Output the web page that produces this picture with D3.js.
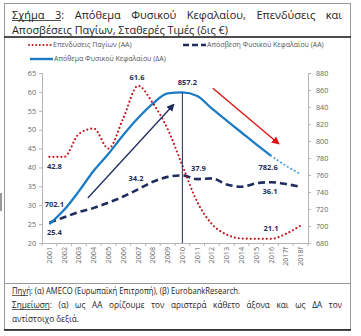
<!DOCTYPE html>
<html>
<head>
<meta charset="utf-8">
<script src="https://cdn.jsdelivr.net/npm/d3@7/dist/d3.min.js"></script>
<style>
  body { margin: 0; background: #fff; }
  svg { display: block; }
  text { font-family: "Open Sans", "Noto Sans", sans-serif; }
</style>
</head>
<body>
<svg id="chart" width="361" height="336"></svg>
<script>
// ---- data ----
const years = ["2001", "2002", "2003", "2004", "2005", "2006", "2007", "2008", "2009",
  "2010", "2011", "2012", "2013", "2014", "2015", "2016", "2017f", "2018f"];
// left axis, bn €
const investment = [42.8, 42.8, 48.9, 50.3, 45.0, 53.0, 61.6, 57.0, 50.2, 40.5, 30.9, 25.0,
  22.2, 21.2, 21.1, 21.1, 22.4, 24.6];
const depreciation = [25.4, 26.8, 28.2, 29.3, 30.7, 32.3, 34.2, 36.2, 37.5, 37.9, 36.9, 37.1,
  35.5, 34.9, 35.8, 36.1, 35.6, 34.9];
// right axis, bn €
const capitalStock = [702.1, 719, 741, 765, 785, 807, 827, 844, 856, 857.2, 853, 838,
  824, 810, 796, 782.6];
const capitalForecast = [782.6, 771, 761]; // 2016 -> 2018f
const leftTicks = [20, 25, 30, 35, 40, 45, 50, 55, 60, 65];
const rightTicks = [680, 700, 720, 740, 760, 780, 800, 820, 840, 860, 880];

const svg = d3.select("#chart");
const navy = "#1f2d5e";
const red = "#c0161f";
const blue = "#1b7bc4";
const lightBlue = "#4aa6e0";

// ---- frame ----
svg.append("rect").attr("x", 4.5).attr("y", 3.5).attr("width", 346).attr("height", 326)
  .attr("fill", "none").attr("stroke", "#9a9a9a").attr("stroke-width", 1);
svg.append("line").attr("x1", 4).attr("x2", 351).attr("y1", 37).attr("y2", 37)
  .attr("stroke", "#111").attr("stroke-width", 1.3);
svg.append("line").attr("x1", 4).attr("x2", 351).attr("y1", 283.5).attr("y2", 283.5)
  .attr("stroke", "#9a9a9a").attr("stroke-width", 1);
svg.append("line").attr("x1", 4).attr("x2", 351).attr("y1", 330).attr("y2", 330)
  .attr("stroke", "#111").attr("stroke-width", 1.3);
svg.append("line").attr("x1", 1).attr("x2", 1).attr("y1", 193).attr("y2", 211)
  .attr("stroke", "#333").attr("stroke-width", 1);

// justify a list of words between x0 and x1
function justify(words, x0, x1, y, size, fill) {
  const g = svg.append("g");
  const t = g.selectAll("text").data(words).join("text")
    .attr("y", y).attr("font-size", size).attr("fill", fill).text(d => d);
  const w = t.nodes().map(n => n.getComputedTextLength());
  const gap = (x1 - x0 - d3.sum(w)) / (words.length - 1);
  let x = x0;
  const xs = [];
  t.each(function (d, i) { xs.push(x); d3.select(this).attr("x", x); x += w[i] + gap; });
  return { xs, w };
}

// ---- title ----
const t1 = justify(["Σχήμα", "3:", "Απόθεμα", "Φυσικού", "Κεφαλαίου,", "Επενδύσεις", "και"],
  12, 342, 18.5, 11, "#222");
svg.append("line").attr("x1", t1.xs[0]).attr("x2", t1.xs[1] + 6)
  .attr("y1", 20.5).attr("y2", 20.5).attr("stroke", "#222").attr("stroke-width", 0.8);
svg.append("text").attr("x", 12).attr("y", 33.5).attr("font-size", 11).attr("fill", "#222")
  .attr("textLength", 216).attr("lengthAdjust", "spacingAndGlyphs")
  .text("Αποσβέσεις Παγίων, Σταθερές Τιμές (δις €)");

// ---- scales ----
const x = d3.scaleBand().domain(years).range([42, 308]);
const cx = d => x(d) + x.bandwidth() / 2;
const yL = d3.scaleLinear().domain([20, 65]).range([243, 73]);
const yR = d3.scaleLinear().domain([680, 880]).range([243, 73]);

// ---- axes ----
const axisColor = "#b5b5b5";
const tickText = "#666";
const gL = svg.append("g").attr("transform", "translate(42,0)")
  .call(d3.axisLeft(yL).tickValues(leftTicks).tickSize(3).tickPadding(3));
const gR = svg.append("g").attr("transform", "translate(308,0)")
  .call(d3.axisRight(yR).tickValues(rightTicks).tickSize(3).tickPadding(5));
const gX = svg.append("g").attr("transform", "translate(0,243)")
  .call(d3.axisBottom(x).tickSize(0).tickPadding(4));
[gL, gR, gX].forEach(g => {
  g.select(".domain").attr("stroke", axisColor);
  g.selectAll(".tick line").attr("stroke", axisColor);
  g.selectAll("text").attr("fill", tickText).attr("font-size", 7.2)
    .attr("font-family", "\"Open Sans\", sans-serif");
});
gX.selectAll(".tick text").attr("transform", "rotate(-90)")
  .attr("text-anchor", "end").attr("x", -4).attr("y", 0).attr("dy", "0.35em");
// ticks on band boundaries
gX.selectAll(".bound").data(years.concat(["end"])).join("line")
  .attr("x1", d => d === "end" ? 308 : x(d)).attr("x2", d => d === "end" ? 308 : x(d))
  .attr("y1", 0).attr("y2", 3).attr("stroke", axisColor);

// ---- lines ----
const curve = d3.curveMonotoneX;
const lineL = d3.line().x((d, i) => cx(years[i])).y(d => yL(d)).curve(curve);

svg.append("path").datum(depreciation).attr("d", lineL)
  .attr("fill", "none").attr("stroke", navy).attr("stroke-width", 2.6)
  .attr("stroke-dasharray", "7,4");

svg.append("path").datum(capitalStock)
  .attr("d", d3.line().x((d, i) => cx(years[i])).y(d => yR(d)).curve(curve))
  .attr("fill", "none").attr("stroke", blue).attr("stroke-width", 2.3);
svg.append("path").datum(capitalForecast)
  .attr("d", d3.line().x((d, i) => cx(years[i + 15])).y(d => yR(d)).curve(curve))
  .attr("fill", "none").attr("stroke", lightBlue).attr("stroke-width", 2.2)
  .attr("stroke-linecap", "round").attr("stroke-dasharray", "0,4");

svg.append("path").datum(investment).attr("d", lineL)
  .attr("fill", "none").attr("stroke", red).attr("stroke-width", 2.2)
  .attr("stroke-linecap", "round").attr("stroke-dasharray", "0,4");

// vertical marker at 2010
svg.append("line").attr("x1", cx("2010")).attr("x2", cx("2010"))
  .attr("y1", yR(857.2)).attr("y2", yL(20)).attr("stroke", navy).attr("stroke-width", 1);

// ---- arrows ----
const defs = svg.append("defs");
[["navyHead", navy], ["redHead", "#e01010"]].forEach(([id, c]) => {
  defs.append("marker").attr("id", id).attr("viewBox", "0 0 10 10")
    .attr("refX", 8).attr("refY", 5).attr("markerWidth", 6).attr("markerHeight", 6)
    .attr("orient", "auto").append("path").attr("d", "M0,0L10,5L0,10z").attr("fill", c);
});
const xi = i => x(years[0]) + x.bandwidth() * (i + 0.5);
svg.append("line").attr("x1", xi(2.6)).attr("y1", yL(31.9)).attr("x2", xi(8.4)).attr("y2", yL(56.6))
  .attr("stroke", navy).attr("stroke-width", 1.3).attr("marker-end", "url(#navyHead)");
svg.append("line").attr("x1", xi(11.06)).attr("y1", yR(862)).attr("x2", xi(15.5)).attr("y2", yR(797))
  .attr("stroke", "#e01010").attr("stroke-width", 1.3).attr("marker-end", "url(#redHead)");

// ---- data labels ----
const labels = [
  { t: "42.8", x: cx("2001") + 5, y: yL(investment[0]) + 12 },
  { t: "61.6", x: cx("2007") - 1, y: yL(investment[6]) - 6 },
  { t: "21.1", x: cx("2016"), y: yL(investment[15]) - 8 },
  { t: "25.4", x: cx("2001") + 5, y: yL(depreciation[0]) + 12 },
  { t: "34.2", x: cx("2007") - 2, y: yL(depreciation[6]) - 8 },
  { t: "37.9", x: cx("2010") + 16, y: yL(depreciation[9]) - 4 },
  { t: "36.1", x: cx("2016") - 1, y: yL(depreciation[15]) + 12 },
  { t: "702.1", x: cx("2001") + 5, y: yR(capitalStock[0]) - 17 },
  { t: "857.2", x: cx("2010") + 5, y: yR(capitalStock[9]) - 7 },
  { t: "782.6", x: cx("2016") - 3, y: yR(capitalStock[15]) + 14 },
];
svg.append("g").selectAll("text").data(labels).join("text")
  .attr("x", d => d.x).attr("y", d => d.y).attr("text-anchor", "middle")
  .attr("font-size", 7.5).attr("font-weight", "bold").attr("fill", navy).text(d => d.t);

// ---- legend ----
const legend = [
  { name: "Επενδύσεις Παγίων (ΑΑ)", x: 29, y: 45, color: red, dash: "0,3.6", cap: "round", w: 2 },
  { name: "Απόσβεση Φυσικού Κεφαλαίου (ΑΑ)", x: 183, y: 45, color: navy, dash: "6,3", cap: "butt", w: 2.4 },
  { name: "Απόθεμα Φυσικού Κεφαλαίου (ΔΑ)", x: 30, y: 59, color: blue, dash: null, cap: "butt", w: 2.4 },
];
const lg = svg.append("g").selectAll("g").data(legend).join("g")
  .attr("transform", d => `translate(${d.x},${d.y})`);
lg.append("line").attr("x1", 0).attr("x2", 23).attr("stroke", d => d.color)
  .attr("stroke-width", d => d.w).attr("stroke-dasharray", d => d.dash)
  .attr("stroke-linecap", d => d.cap);
lg.append("text").attr("x", 24).attr("dy", "0.35em").attr("font-size", 7)
  .attr("fill", "#555").text(d => d.name);

// ---- footer ----
const f1 = svg.append("text").attr("x", 12).attr("y", 294).attr("font-size", 8.2).attr("fill", "#222")
  .attr("textLength", 228).attr("lengthAdjust", "spacingAndGlyphs");
f1.append("tspan").text("Πηγή");
f1.append("tspan").text(": (α) AMECO (Ευρωπαϊκή Επιτροπή), (β) EurobankResearch.");
svg.append("line").attr("x1", 12).attr("x2", 28).attr("y1", 295.5).attr("y2", 295.5)
  .attr("stroke", "#222").attr("stroke-width", 0.7);
const f2 = justify(["Σημείωση:", "(α)", "ως", "ΑΑ", "ορίζουμε", "τον", "αριστερά", "κάθετο", "άξονα", "και", "ως", "ΔΑ", "τον"],
  12, 342, 308, 8.2, "#222");
svg.append("line").attr("x1", 12).attr("x2", 12 + f2.w[0] - 3).attr("y1", 309.5).attr("y2", 309.5)
  .attr("stroke", "#222").attr("stroke-width", 0.7);
svg.append("text").attr("x", 12).attr("y", 322).attr("font-size", 8.2).attr("fill", "#222")
  .text("αντίστοιχο δεξιά.");
</script>
</body>
</html>
